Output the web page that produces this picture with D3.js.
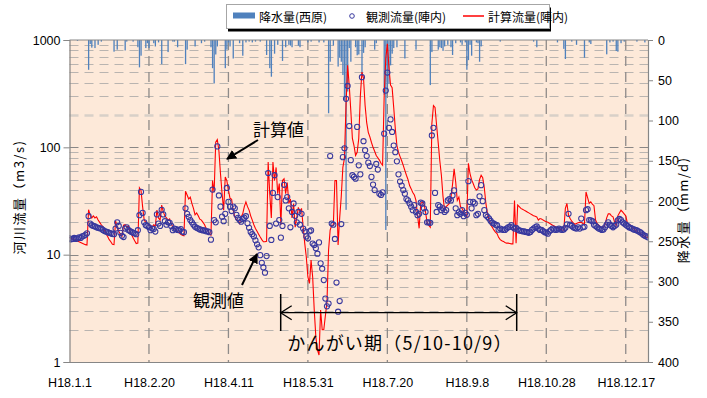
<!DOCTYPE html>
<html><head><meta charset="utf-8">
<script src="https://cdn.jsdelivr.net/npm/d3@7"></script>
<style>body{margin:0;background:#fff}svg{display:block}</style>
</head><body>
<svg id="c" width="707" height="398"></svg>
<script>
// ---------------- data ----------------
const xTickDays = [0, 50, 100, 150, 200, 250, 300, 350];
const xTickLabels = ["H18.1.1","H18.2.20","H18.4.11","H18.5.31","H18.7.20","H18.9.8","H18.10.28","H18.12.17"];
const flowTicks = [1, 10, 100, 1000];
const rainTicks = [0, 50, 100, 150, 200, 250, 300, 350, 400];

// observed discharge (Jinnai), m3/s, daily from Jan 1
const obs = [
14.2,13.9,14.0,14.3,14.0,14.2,14.5,14.3,14.8,15.0,
15.3,15.8,22.8,19.5,18.8,18.5,18.3,18.0,17.8,17.6,
17.5,17.0,16.6,16.4,16.2,16.0,15.8,15.6,15.5,17.5,
20.0,18.5,16.0,15.0,14.6,17.5,18.0,17.0,16.6,16.3,
16.0,15.8,15.5,16.9,23.3,38.4,24.5,20,18.8,18.5,
18,16.9,17.5,17.3,16.4,23.7,19.5,18.5,26.2,23.7,
20.5,19,20,19.8,18.5,16.9,17.5,17.3,17,16.9,
17.3,16.4,16.2,27,24,22.5,21,20,19,18.2,
17.8,17.5,17.2,17,16.8,16.8,16.5,16.5,16.2,13.8,
40.4,21,20,102,35.6,28,22.6,20.5,24,41.8,
31,28,25.5,28,27,23.5,22,21,20.3,21.5,
22,22.8,19.6,17.8,16.3,15.5,14.8,13.6,12.5,11.7,
9.9,8.4,7.6,6.8,9.7,57.6,18.5,13.7,37.6,55,
19.5,34.4,21,14.4,18.5,44.8,32,34.4,27,18,
25,30,23,20,25,19,24,17.5,16.5,14.8,
14.2,16.5,16.8,12.7,12.3,11.5,10.2,13,8.3,7.4,
5.8,3.9,3.3,3.5,83,19.5,19,14,5.5,2.94,
3.7,19.3,81,98,283,373,158,76,55,53,
51,155,68,56,450,114,94,83,72,67,
53,45,40,70,62,37,36,38,134,338,
497,152,182,139,104,90,74,56,48,44,
40,37,33,32,30,28,26,29,25,23.3,
24,30.5,30,27,25,20,20,19.8,129,152,
37.6,25,29,28,26,27,25,26,32,33,
32,35.6,39.7,27,23.3,24.8,24,26,22.8,24.5,
23.5,48.4,31,27,31,30,23.3,24,35,44.4,
31.5,26,23.3,22.5,21.7,20.6,19.8,19.5,19,18.8,
17.1,17.5,17.2,17,17,17.5,18,18.2,18.8,18,
17.5,17.8,17.2,16.8,16.7,16.5,16.5,16.3,16.2,16,
16.3,17,17.5,18,18.3,17.5,17,17,16.6,16.2,
16,15.7,16.5,17,17.5,17.2,17,17.2,17.5,17.2,
17,17.2,17.8,19.2,24,19,18.5,18,17.7,17.5,
18,17.5,21.7,18,18.2,26,26.5,21,20.9,20.5,
19,18.5,18,17.5,17.3,17,17.2,18,19,20,
19,18.5,18,18.5,19,20.9,21.5,21,20,19.5,
19,18.5,18,17.8,17.5,17.2,17,16.8,16.5,16.2,
15.8,15.3,15,14.8,14.5
];

// calculated discharge (Jinnai), m3/s, daily from Jan 1
const calc = [
14.5,14.2,14,13.8,13.6,13.4,13.2,13,12.8,12.6,
12.4,12.3,26.2,23.3,22,23,22,22.5,21,20,
19,18.2,17,15.7,14.8,13.8,13.2,12.5,12.4,20.6,
18,16.5,15.5,14.8,18.8,19,18,18.5,16.5,15.5,
14.4,13.5,12.7,12.8,42,39.7,28,21,20,19.5,
19,18.5,18,19,18.5,26,22,21,29,25,
23,22,21,21.5,19.5,18,17.5,17,16.5,16,
15.5,15.2,15,39,36,33,34.4,30,27,23.5,
24.5,23,21.4,21,20,19,17.5,16.8,15.6,15.2,
49,38,112,118,93,57,37,26,53,49,
40,33.5,32.8,26,22.5,21.3,20.5,19.5,22.5,24,
28,31,28,26,23,21,19,17.5,16.5,15.5,
14.6,13.8,13.2,13.2,13.3,73,37,22,73,49,
65,37,46,19,49,51,37,47,30,33,
22,30,18,22,27.6,25,27,18.3,12.8,9.5,
6.2,5.4,8.9,6.2,3.05,1.72,1.3,1.16,3.05,2.0,
2.0,2.7,3.6,11,16.9,18.8,18.8,49,49,12.3,
22,35,65,79,250,580,380,220,121,104,
84,90,121,300,502,440,245,170,138,125,
111,100,92,84,80,76,71,68,303,670,
920,558,380,360,235,150,104,90,82,75,
68,61,55,50,44,41,38,36,32,23,
17.6,30,31,30,25,20,18.8,18,166,245,
235,160,110,75,55,35,26,28,29,30,
34,45,63,47.5,32,34.4,28,27,25,23.5,
22.5,71,57,50,46,42,40,41,50,55,
52,42,30,24,21,19,18,17,16.2,15.7,
14.5,13.8,13.5,13.3,13,12.8,12.8,12.7,12.6,12.6,
32,12.8,29,28,27,26.5,26,25.5,25,24.5,
24,23.5,23,22.8,22.5,21,21.7,21.5,21,20.6,
20.3,20,19.6,19.2,18.8,18.5,18.1,17.8,17.4,17.2,
17,16.9,27,30,23.3,21.7,20.5,19.8,19.2,19.5,
19.8,20,20,19.5,19,38.4,34,30,31,29.5,
28.6,21,19.5,18.8,18.2,17.8,18,19.2,22,24,
24,23,22.5,20,18.8,23,24.5,26,25,24,
23,19.8,19.2,18.8,18,17.4,17,16.5,16.1,15.8,
15.4,15.1,14.8,14.6,14.5
];

// daily rainfall (Nishihara), mm/d : day index and amount
const rainDay = [5,12,13,14,16,18,20,28,30,35,36,40,43,44,45,48,49,50,53,54,56,58,62,65,66,68,73,74,79,83,85,
  89,90,91,92,93,98,99,100,101,103,107,109,111,113,115,117,120,124,126,127,129,131,134,136,138,139,140,144,145,
  150,152,157,160,163,164,166,169,170,171,172,173,174,175,176,177,180,181,182,184,185,186,192,193,
  198,199,200,201,202,203,204,206,211,218,227,228,232,233,234,235,236,238,240,241,243,246,247,249,250,251,252,253,
  256,257,258,259,271,292,294,307,311,312,316,319,324,327,328,338,340,342,344,345,347,349,357,362];
const rainMM = [1,37,5,9.5,10,6,2,14.5,12,13,2,2,9,34,19.5,10,4,10,4,8,3,30,15,2,2,9,30,12,8,4,2,
  9,35,54,18,8,35,12,3,8,23,4,19.5,3,2,3,2,2,18.6,35,45.6,17,6,26,9,6,7,9,7,9,
  3,2,3,3,91,27,7,33,22,27,43.5,74.5,211,64,10,27,9,19,18,43.5,16,9,12,4,
  68,236,62,54,31.5,17,10,9,23,12,56,15,12,9,10,13.5,8,6,9,18.6,4,3,6,3,37,25,6,19.5,
  3,4,27,8,2,2,9,3,11,23.6,2,6,22,3,5,17.8,3,2,13.7,14.5,4,2,2,3];

// ---------------- drawing ----------------
const svg = d3.select("#c");
const L = 69.5, R = 648, T = 40, B = 362;
const x = d3.scaleLinear().domain([0, 364]).range([L, R]);
const y = d3.scaleLog().domain([1, 1000]).range([B, T]);
const yr = d3.scaleLinear().domain([0, 400]).range([T, B]);
const NUM = "'Liberation Sans', Arial, sans-serif";
const JP = "'Noto Sans CJK JP', 'Noto Sans CJK SC', sans-serif";

svg.append("rect").attr("width", 707).attr("height", 398).attr("fill", "#fff");
svg.append("rect").attr("x", L).attr("y", T).attr("width", R - L).attr("height", B - T).attr("fill", "#FDE9D9");

svg.append("defs").append("clipPath").attr("id", "clip")
  .append("rect").attr("x", L).attr("y", T).attr("width", R - L).attr("height", B - T);

// horizontal grid (log minor / major)
const grid = svg.append("g");
const minorVals = [];
[1, 10, 100].forEach(dec => { for (let m = 2; m <= 9; m++) minorVals.push(m * dec); });
grid.selectAll("line.mn").data(minorVals).join("line")
  .attr("x1", L).attr("x2", R).attr("y1", d => Math.round(y(d)) + 0.5).attr("y2", d => Math.round(y(d)) + 0.5)
  .attr("stroke", d => (d === 200 ? "#d8d0c8" : "#b9b4b0"))
  .attr("stroke-width", d => (d === 200 ? 2.5 : 1))
  .attr("stroke-dasharray", "9,6");
grid.selectAll("line.mj").data([10, 100]).join("line")
  .attr("x1", L).attr("x2", R).attr("y1", d => Math.round(y(d)) + 0.5).attr("y2", d => Math.round(y(d)) + 0.5)
  .attr("stroke", "#8a8786").attr("stroke-width", 1).attr("stroke-dasharray", "9,6");
// vertical grid
grid.selectAll("line.v").data(xTickDays.slice(1)).join("line")
  .attr("x1", d => x(d)).attr("x2", d => x(d)).attr("y1", T).attr("y2", B)
  .attr("stroke", "#8f8b89").attr("stroke-width", 1.3).attr("stroke-dasharray", "10,6");

const plot = svg.append("g").attr("clip-path", "url(#clip)");

// rainfall bars from top
plot.selectAll("rect.rain").data(rainDay.map((d, i) => ({ d, v: rainMM[i] }))).join("rect")
  .attr("x", p => x(p.d) - 0.6).attr("width", 1.3)
  .attr("y", yr(0)).attr("height", p => yr(p.v) - yr(0))
  .attr("fill", "#4F81BD");

// calculated line
plot.append("path").datum(calc)
  .attr("d", d3.line().x((v, i) => x(i)).y(v => y(v)))
  .attr("fill", "none").attr("stroke", "#FF0000").attr("stroke-width", 1.1);

// observed circles
plot.selectAll("circle.obs").data(obs).join("circle")
  .attr("cx", (v, i) => x(i)).attr("cy", v => y(v)).attr("r", 2.6)
  .attr("fill", "none").attr("stroke", "#38389E").attr("stroke-width", 1.05);

// frame lines
svg.append("line").attr("x1", L).attr("x2", R).attr("y1", T).attr("y2", T).attr("stroke", "#868686");

// axes
const axL = svg.append("g").attr("transform", `translate(${L},0)`)
  .call(d3.axisLeft(y).tickValues(flowTicks).tickFormat(d3.format("d")).tickSize(6).tickPadding(3));
const axR = svg.append("g").attr("transform", `translate(${R},0)`)
  .call(d3.axisRight(yr).tickValues(rainTicks).tickSize(5).tickPadding(5));
const axB = svg.append("g").attr("transform", `translate(0,${B})`)
  .call(d3.axisBottom(x).tickValues(xTickDays).tickFormat((d, i) => xTickLabels[i]).tickSize(0).tickPadding(16));
[axL, axR, axB].forEach(a => {
  a.select(".domain").attr("stroke", "#868686").attr("stroke-width", 1.2);
  a.selectAll(".tick line").attr("stroke", "#868686");
  a.selectAll("text").attr("fill", "#000").style("font-family", NUM).style("font-size", "12.5px");
});

// axis titles
svg.append("text").attr("transform", "translate(24,197) rotate(-90)")
  .attr("text-anchor", "middle").style("font-family", JP).style("font-size", "13px").style("letter-spacing", "1.5px")
  .text("河川流量（m3/s)");
svg.append("text").attr("transform", "translate(688,210) rotate(-90)")
  .attr("text-anchor", "middle").style("font-family", JP).style("font-size", "13px").style("letter-spacing", "1.5px")
  .text("降水量（mm/d)");

// legend
const lg = svg.append("g");
lg.append("rect").attr("x", 228).attr("y", 7.5).attr("width", 323).attr("height", 24).attr("fill", "#000");
lg.append("rect").attr("x", 226.5).attr("y", 4.5).attr("width", 323).attr("height", 24).attr("fill", "#fff").attr("stroke", "#a6a6a6");
lg.append("rect").attr("x", 233).attr("y", 12.5).attr("width", 22).attr("height", 6).attr("fill", "#4F81BD");
lg.append("text").attr("x", 259).attr("y", 21.5).text("降水量(西原)");
lg.append("circle").attr("cx", 352).attr("cy", 16).attr("r", 2.3).attr("fill", "none").attr("stroke", "#38389E");
lg.append("text").attr("x", 366).attr("y", 21.5).text("観測流量(陣内)");
lg.append("line").attr("x1", 463).attr("x2", 484).attr("y1", 16).attr("y2", 16).attr("stroke", "#FF0000").attr("stroke-width", 1.5);
lg.append("text").attr("x", 488).attr("y", 21.5).text("計算流量(陣内)");
lg.selectAll("text").style("font-family", JP).style("font-size", "12px").attr("fill", "#000");

// annotations
const defs = svg.select("defs");
defs.append("marker").attr("id", "ah").attr("viewBox", "0 0 10 10").attr("refX", 9).attr("refY", 5)
  .attr("markerWidth", 5).attr("markerHeight", 5).attr("orient", "auto").attr("markerUnits", "strokeWidth")
  .append("path").attr("d", "M0,0 L10,5 L0,10 z").attr("fill", "#000");
const ann = svg.append("g");
ann.append("line").attr("x1", 258).attr("y1", 140).attr("x2", 227).attr("y2", 159)
  .attr("stroke", "#000").attr("stroke-width", 2).attr("marker-end", "url(#ah)");
ann.append("line").attr("x1", 242).attr("y1", 285).attr("x2", 257).attr("y2", 254)
  .attr("stroke", "#000").attr("stroke-width", 2).attr("marker-end", "url(#ah)");
ann.append("text").attr("x", 253).attr("y", 136).text("計算値");
ann.append("text").attr("x", 193).attr("y", 307).text("観測値");
ann.selectAll("text").style("font-family", JP).style("font-size", "17px").attr("fill", "#000");

// irrigation period marker
const ix0 = 280.7, ix1 = 516.7, iy = 312.7;
ann.append("line").attr("x1", ix0).attr("x2", ix1).attr("y1", iy).attr("y2", iy).attr("stroke", "#000").attr("stroke-width", 1.3);
ann.append("line").attr("x1", ix0).attr("x2", ix0).attr("y1", 294).attr("y2", 331).attr("stroke", "#000").attr("stroke-width", 1.5);
ann.append("line").attr("x1", ix1).attr("x2", ix1).attr("y1", 294).attr("y2", 331).attr("stroke", "#000").attr("stroke-width", 1.5);
ann.append("path").attr("d", `M${ix0 + 11},${iy - 7} L${ix0},${iy} L${ix0 + 11},${iy + 7}`).attr("fill", "none").attr("stroke", "#000").attr("stroke-width", 1.3);
ann.append("path").attr("d", `M${ix1 - 11},${iy - 7} L${ix1},${iy} L${ix1 - 11},${iy + 7}`).attr("fill", "none").attr("stroke", "#000").attr("stroke-width", 1.3);
ann.append("text").attr("x", 400).attr("y", 350).attr("text-anchor", "middle")
  .style("font-family", JP).style("font-size", "18px").style("letter-spacing", "1.2px").attr("fill", "#000")
  .text("かんがい期（5/10-10/9）");

if (obs.length !== 365 || calc.length !== 365 || rainDay.length !== rainMM.length) {
  throw new Error("length mismatch obs=" + obs.length + " calc=" + calc.length + " rd=" + rainDay.length + " rm=" + rainMM.length);
}
</script>
</body></html>
